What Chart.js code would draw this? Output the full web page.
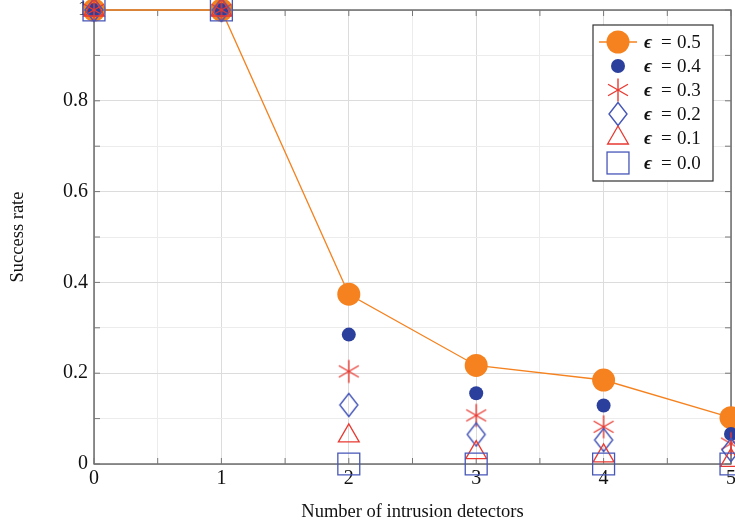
<!DOCTYPE html>
<html lang="en">
<head>
<meta charset="UTF-8">
<title>Success rate vs intrusion detectors</title>
<script src="https://cdn.jsdelivr.net/npm/chart.js"></script>
<style>
    html, body {
        margin: 0;
        padding: 0;
        background: #fff;
        overflow: hidden;
    }
    .wrap {
        width: 760px;
        height: 527px;
    }
</style>
</head>
<body>
<div class="wrap">
    <canvas id="chart" width="760" height="527"></canvas>
</div>

<script>
    // values
    const detectors = [0, 1, 2, 3, 4, 5];
    const eps05 = [1, 1, 0.374, 0.217, 0.185, 0.102];
    const eps04 = [1, 1, 0.285, 0.156, 0.129, 0.066];
    const eps03 = [1, 1, 0.204, 0.107, 0.082, 0.045];
    const eps02 = [1, 1, 0.130, 0.065, 0.053, 0.031];
    const eps01 = [1, 1, 0.062, 0.025, 0.018, 0.008];
    const eps00 = [1, 1, 0, 0, 0, 0];
    const epsLabels = ['0.5', '0.4', '0.3', '0.2', '0.1', '0.0'];

    const ORANGE = '#f5821f';
    const NAVY = '#2b3f9c';
    const BLUE = '#4657b8';
    const RED = '#e83a32';
    const SERIF = "'Liberation Serif', 'DejaVu Serif', serif";

    function pts(arr) {
        return detectors.map((x, i) => ({ x: x, y: arr[i] }));
    }

    // six-armed asterisk like the pgfplots star
    function makeAsterisk() {
        const c = document.createElement('canvas');
        c.width = 26; c.height = 26;
        const g = c.getContext('2d');
        g.strokeStyle = RED;
        g.lineWidth = 1.4;
        g.translate(13, 13);
        for (let a = 0; a < 3; a++) {
            const ang = Math.PI / 2 + a * Math.PI / 3;
            g.beginPath();
            g.moveTo(Math.cos(ang) * 11.5, Math.sin(ang) * 11.5);
            g.lineTo(-Math.cos(ang) * 11.5, -Math.sin(ang) * 11.5);
            g.stroke();
        }
        return c;
    }

    function makeDiamond() {
        const c = document.createElement('canvas');
        c.width = 22; c.height = 26;
        const g = c.getContext('2d');
        g.strokeStyle = BLUE;
        g.lineWidth = 1.4;
        g.beginPath();
        g.moveTo(11, 1.5);
        g.lineTo(20, 13);
        g.lineTo(11, 24.5);
        g.lineTo(2, 13);
        g.closePath();
        g.stroke();
        return c;
    }

    const asterisk = makeAsterisk();
    const diamond = makeDiamond();

    const datasets = [
        {
            label: epsLabels[0], data: pts(eps05), order: 5,
            showLine: true, borderColor: ORANGE, borderWidth: 1.3,
            pointStyle: 'circle', pointRadius: 11.5,
            pointBackgroundColor: ORANGE, pointBorderColor: ORANGE, pointBorderWidth: 0
        },
        {
            label: epsLabels[1], data: pts(eps04), order: 4,
            pointStyle: 'circle', pointRadius: 7,
            pointBackgroundColor: NAVY, pointBorderColor: NAVY, pointBorderWidth: 0
        },
        {
            label: epsLabels[2], data: pts(eps03), order: 3,
            pointStyle: asterisk, pointRadius: 12
        },
        {
            label: epsLabels[3], data: pts(eps02), order: 2,
            pointStyle: diamond, pointRadius: 12
        },
        {
            label: epsLabels[4], data: pts(eps01), order: 1,
            pointStyle: 'triangle', pointRadius: 12,
            pointBackgroundColor: 'rgba(0,0,0,0)', pointBorderColor: RED, pointBorderWidth: 1.3
        },
        {
            label: epsLabels[5], data: pts(eps00), order: 0,
            pointStyle: 'rect', pointRadius: 15.5,
            pointBackgroundColor: 'rgba(0,0,0,0)', pointBorderColor: BLUE, pointBorderWidth: 1.3
        }
    ];
    datasets.forEach(d => { d.clip = false; });

    function drawMarker(ctx, ds, x, y) {
        const st = ds.pointStyle;
        const r = ds.pointRadius;
        ctx.save();
        if (st instanceof HTMLCanvasElement) {
            ctx.drawImage(st, x - st.width / 2, y - st.height / 2);
        } else if (st === 'circle') {
            ctx.fillStyle = ds.pointBackgroundColor;
            ctx.beginPath();
            ctx.arc(x, y, r, 0, Math.PI * 2);
            ctx.fill();
        } else if (st === 'triangle') {
            ctx.strokeStyle = ds.pointBorderColor;
            ctx.lineWidth = ds.pointBorderWidth;
            ctx.beginPath();
            for (let k = 0; k < 3; k++) {
                const a = k * 2 * Math.PI / 3;
                ctx.lineTo(x + Math.sin(a) * r, y - Math.cos(a) * r);
            }
            ctx.closePath();
            ctx.stroke();
        } else if (st === 'rect') {
            const h = r * Math.SQRT1_2;
            ctx.strokeStyle = ds.pointBorderColor;
            ctx.lineWidth = ds.pointBorderWidth;
            ctx.strokeRect(x - h, y - h, 2 * h, 2 * h);
        }
        ctx.restore();
    }

    // box frame round the plot area, with small inward ticks like pgfplots
    const framePlugin = {
        id: 'frame',
        beforeDatasetsDraw(chart) {
            const a = chart.chartArea;
            const ctx = chart.ctx;
            ctx.save();
            ctx.strokeStyle = '#4a4a4a';
            ctx.lineWidth = 1.2;
            ctx.strokeRect(a.left, a.top, a.right - a.left, a.bottom - a.top);
            ctx.lineWidth = 1;
            ctx.strokeStyle = '#777';
            chart.scales.x.ticks.forEach(t => {
                const px = chart.scales.x.getPixelForValue(t.value);
                ctx.beginPath();
                ctx.moveTo(px, a.bottom); ctx.lineTo(px, a.bottom - 6);
                ctx.moveTo(px, a.top); ctx.lineTo(px, a.top + 6);
                ctx.stroke();
            });
            chart.scales.y.ticks.forEach(t => {
                const py = chart.scales.y.getPixelForValue(t.value);
                ctx.beginPath();
                ctx.moveTo(a.left, py); ctx.lineTo(a.left + 6, py);
                ctx.moveTo(a.right, py); ctx.lineTo(a.right - 6, py);
                ctx.stroke();
            });
            ctx.restore();
        }
    };

    // legend box in the upper right, as in the reference
    const legendPlugin = {
        id: 'boxLegend',
        afterDraw(chart) {
            const ctx = chart.ctx;
            const bx = 593, by = 25, bw = 120, bh = 156;
            ctx.save();
            ctx.fillStyle = '#fff';
            ctx.fillRect(bx, by, bw, bh);
            ctx.strokeStyle = '#333';
            ctx.lineWidth = 1.2;
            ctx.strokeRect(bx, by, bw, bh);
            const rowY = [42, 66, 90, 114, 138, 163];
            const mx = 618;
            chart.data.datasets.forEach((ds, i) => {
                const y = rowY[i];
                if (ds.showLine) {
                    ctx.strokeStyle = ds.borderColor;
                    ctx.lineWidth = ds.borderWidth;
                    ctx.beginPath();
                    ctx.moveTo(599, y);
                    ctx.lineTo(637, y);
                    ctx.stroke();
                }
                drawMarker(ctx, ds, mx, y);
                ctx.fillStyle = '#111';
                ctx.textBaseline = 'middle';
                ctx.textAlign = 'left';
                ctx.font = 'bold italic 19px ' + SERIF;
                ctx.fillText('\u03F5', 644, y + 1);
                ctx.font = '19px ' + SERIF;
                ctx.fillText('=', 661, y + 1);
                ctx.fillText(ds.label, 677, y + 1);
            });
            ctx.restore();
        }
    };

    const chart = new Chart(document.getElementById('chart'), {
        type: 'scatter',
        data: { datasets: datasets },
        options: {
            responsive: false,
            animation: false,
            events: [],
            layout: { autoPadding: false, padding: { top: 10, right: 29, left: 0, bottom: 0 } },
            plugins: {
                legend: { display: false },
                tooltip: { enabled: false }
            },
            scales: {
                x: {
                    type: 'linear',
                    min: 0,
                    max: 5,
                    afterFit: s => { s.height = 63; s.paddingLeft = 0; s.paddingRight = 0; },
                    ticks: {
                        stepSize: 0.5,
                        padding: 3,
                        maxRotation: 0,
                        autoSkip: false,
                        color: '#111',
                        font: { family: SERIF, size: 20 },
                        callback: v => Number.isInteger(v) ? String(v) : ''
                    },
                    grid: {
                        color: c => Number.isInteger(c.tick.value) ? '#dcdcdc' : '#ececec',
                        drawTicks: false
                    },
                    border: { display: false },
                    title: {
                        display: true,
                        text: 'Number of intrusion detectors',
                        color: '#111',
                        font: { family: SERIF, size: 18.5 },
                        padding: { top: 0, bottom: 4 }
                    }
                },
                y: {
                    type: 'linear',
                    min: 0,
                    max: 1,
                    afterFit: s => { s.width = 94; s.paddingTop = 0; s.paddingBottom = 0; },
                    ticks: {
                        stepSize: 0.1,
                        padding: 6,
                        autoSkip: false,
                        color: '#111',
                        font: { family: SERIF, size: 20 },
                        callback: v => {
                            const t = Math.round(v * 10);
                            if (t % 2 !== 0) return '';
                            return t === 0 ? '0' : (t === 10 ? '1' : (t / 10).toFixed(1));
                        }
                    },
                    grid: {
                        color: c => Math.round(c.tick.value * 10) % 2 === 0 ? '#dcdcdc' : '#ececec',
                        drawTicks: false
                    },
                    border: { display: false },
                    title: {
                        display: true,
                        text: 'Success rate',
                        color: '#111',
                        font: { family: SERIF, size: 18.5 },
                        padding: { top: 7, bottom: 0 }
                    }
                }
            }
        },
        plugins: [framePlugin, legendPlugin]
    });
</script>
</body>
</html>
